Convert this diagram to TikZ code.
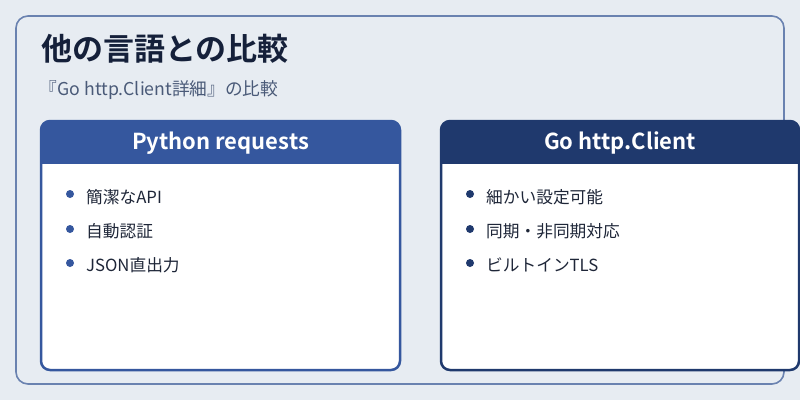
\documentclass[tikz,border=0pt]{standalone}
\usepackage{fontspec}
\setmainfont{Noto Sans CJK JP}
\newfontfamily\jpbold{Noto Sans CJK JP Bold}
\usetikzlibrary{positioning}
\definecolor{bgc}{HTML}{E7ECF2}
\definecolor{framec}{HTML}{6A82B0}
\definecolor{titlec}{HTML}{15203A}
\definecolor{subc}{HTML}{4A5A78}
\definecolor{pyc}{HTML}{35579E}
\definecolor{goc}{HTML}{1F396D}
\definecolor{textc}{HTML}{1E2638}
\tikzset{
  cardbody/.style={fill=white, draw=#1, line width=2.5pt, rounded corners=9pt},
  headtext/.style={text=white, font=\jpbold\fontsize{22}{26}\selectfont, anchor=center},
  itemtext/.style={text=textc, font=\fontsize{16.7}{20}\selectfont, anchor=west, inner sep=0pt},
  bulletdot/.style={circle, fill=#1, minimum size=8pt, inner sep=0pt}
}
\begin{document}
\begin{tikzpicture}[x=1pt,y=-1pt]
\useasboundingbox (0,0) rectangle (800,400);
\fill[bgc] (0,0) rectangle (800,400);
\draw[framec, line width=1.6pt, rounded corners=12pt] (16,16) rectangle (784,384);
\node[anchor=base west, inner sep=0pt, text=titlec, font=\jpbold\fontsize{31}{36}\selectfont] (title) at (41,60) {他の言語との比較};
\node[anchor=base west, inner sep=0pt, text=subc, font=\fontsize{17.7}{21}\selectfont] (sub) at (39.5,95) {『Go http.Client詳細』の比較};
% left card
\draw[cardbody=pyc] (41,121) rectangle (400,370);
\begin{scope}
\clip[rounded corners=9pt] (41,121) rectangle (400,200);
\fill[pyc] (40,120) rectangle (401,164);
\end{scope}
\node[headtext] (pyh) at (220.5,143) {Python requests};
\node[bulletdot=pyc] (pb1) at (70,194) {};
\node[bulletdot=pyc] (pb2) at (70,229) {};
\node[bulletdot=pyc] (pb3) at (70,263) {};
\node[itemtext] (pt1) at (86,197) {簡潔なAPI};
\node[itemtext] (pt2) at (86,231) {自動認証};
\node[itemtext] (pt3) at (86,265) {JSON直出力};
% right card
\draw[cardbody=goc] (441,121) rectangle (799,370);
\begin{scope}
\clip[rounded corners=9pt] (441,121) rectangle (799,200);
\fill[goc] (440,120) rectangle (800,164);
\end{scope}
\node[headtext] (goh) at (620,143) {Go http.Client};
\node[bulletdot=goc] (gb1) at (470,194) {};
\node[bulletdot=goc] (gb2) at (470,229) {};
\node[bulletdot=goc] (gb3) at (470,263) {};
\node[itemtext] (gt1) at (486,197) {細かい設定可能};
\node[itemtext] (gt2) at (486,231) {同期・非同期対応};
\node[itemtext] (gt3) at (486,265) {ビルトインTLS};
\end{tikzpicture}
\end{document}
